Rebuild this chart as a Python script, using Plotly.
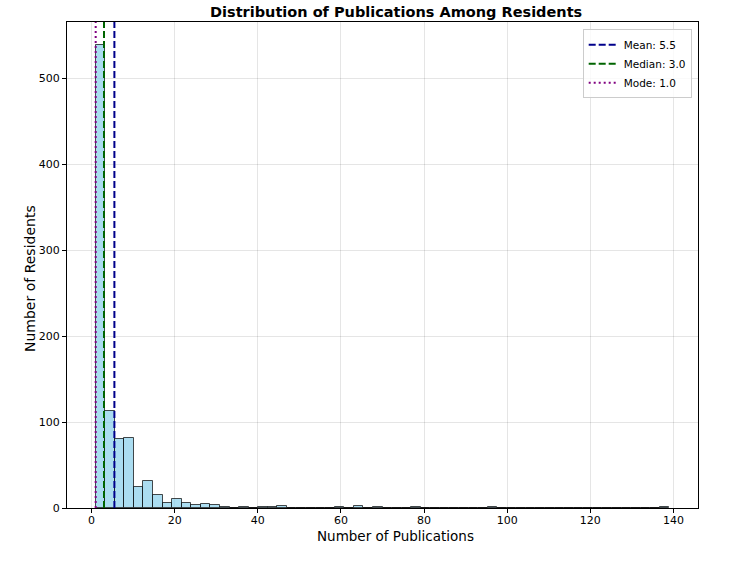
import plotly.graph_objects as go

# ---- data ----
bin_start = 1.0
bin_end = 139.0
n_bins = 60
# counts per bin (index -> count)
counts = [0] * n_bins
nonzero_bins = [0, 1, 2, 3, 4, 5, 6, 7, 8, 9, 10, 11, 12, 13, 15, 17, 18, 19, 25, 27, 29, 33, 41, 59]
nonzero_counts = [539, 113, 80, 82, 25, 32, 15, 6, 10, 6, 3, 5, 3, 1, 1, 1, 1, 2, 1, 2, 1, 1, 1, 1]
for i, c in zip(nonzero_bins, nonzero_counts):
    counts[i] = c

stat_names = ["Mean", "Median", "Mode"]
stat_values = [5.5, 3.0, 1.0]
stat_colors = ["#00008B", "#006400", "#800080"]
stat_dashes = ["7px,3px", "7px,3px", "2px,3px"]

title_text = "Distribution of Publications Among Residents"
xlabel = "Number of Publications"
ylabel = "Number of Residents"
xticks = [0, 20, 40, 60, 80, 100, 120, 140]
yticks = [0, 100, 200, 300, 400, 500]

width = (bin_end - bin_start) / n_bins
centers = [bin_start + (k + 0.5) * width for k in range(n_bins)]

ymax = max(counts) * 1.05
span = bin_end - bin_start
xr = [bin_start - 0.05 * span, bin_end + 0.05 * span]

W, H = 750, 565
L, R, T, B = 67, 52, 22, 57

fig = go.Figure()
fig.add_trace(go.Bar(
    x=centers, y=counts, width=width,
    marker=dict(color="rgba(135,206,235,0.7)",
                line=dict(color="rgba(0,0,0,0.7)", width=1)),
    showlegend=False, hoverinfo="x+y",
))

for name, val, col, dash in zip(stat_names, stat_values, stat_colors, stat_dashes):
    fig.add_trace(go.Scatter(
        x=[val, val], y=[0, ymax], mode="lines",
        line=dict(color=col, width=2, dash=dash),
        name=f"{name}: {val:.1f}",
    ))

axis_common = dict(
    showline=True, linecolor="black", linewidth=1, mirror=True,
    ticks="outside", ticklen=4, tickcolor="black",
    showgrid=True, gridcolor="rgba(0,0,0,0.1)", gridwidth=1,
    zeroline=False,
    tickfont=dict(family="DejaVu Sans", size=11, color="black"),
)

pw = W - L - R
ph = H - T - B

def px_x(p):
    return (p - L) / pw

def px_y(p):
    return (H - B - p) / ph

fig.update_layout(
    width=W, height=H,
    margin=dict(l=L, r=R, t=T, b=B),
    paper_bgcolor="white", plot_bgcolor="white",
    bargap=0,
    xaxis=dict(range=xr, tickvals=xticks, ticklabelstandoff=-2, **axis_common),
    yaxis=dict(range=[0, ymax], tickvals=yticks, **axis_common),
    legend=dict(x=0.99, y=0.985, xanchor="right", yanchor="top",
                itemwidth=30,
                bgcolor="rgba(255,255,255,0.8)", bordercolor="#cccccc", borderwidth=1,
                font=dict(family="DejaVu Sans", size=10.5, color="black")),
    annotations=[
        dict(text=f"<b>{title_text}</b>", xref="paper", yref="paper",
             x=px_x(396), y=px_y(12), xanchor="center", yanchor="middle",
             showarrow=False, font=dict(family="DejaVu Sans", size=14.5, color="black")),
        dict(text=xlabel, xref="paper", yref="paper",
             x=px_x(396), y=px_y(536), xanchor="center", yanchor="middle",
             showarrow=False, font=dict(family="DejaVu Sans", size=13.5, color="black")),
        dict(text=ylabel, xref="paper", yref="paper", textangle=-90,
             x=px_x(30), y=px_y(279), xanchor="center", yanchor="middle",
             showarrow=False, font=dict(family="DejaVu Sans", size=14, color="black")),
    ],
)

fig.write_html("out.html")
